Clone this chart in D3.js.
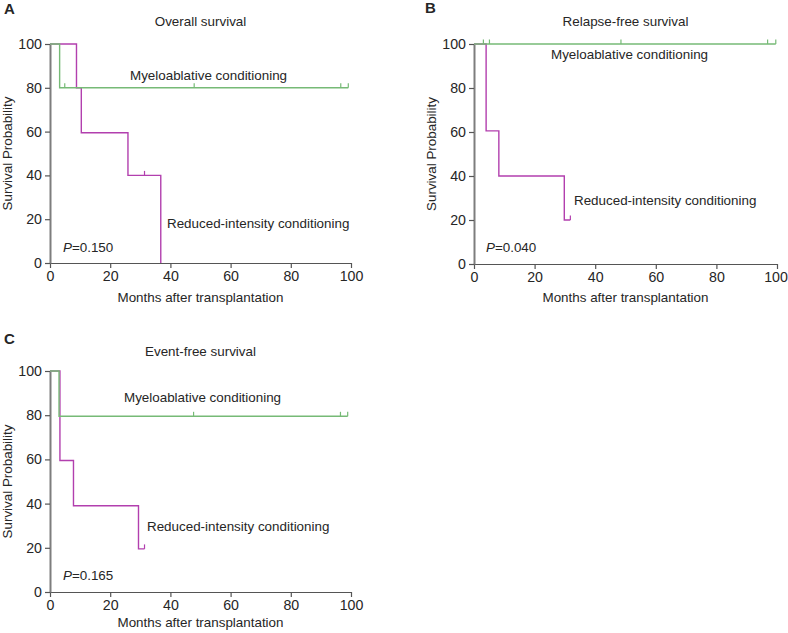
<!DOCTYPE html>
<html>
<head>
<meta charset="utf-8">
<script src="https://cdn.jsdelivr.net/npm/d3@7"></script>
<style>
  html, body { margin: 0; padding: 0; background: #fff; }
  svg text { font-family: "Liberation Sans", Arial, Helvetica, sans-serif; fill: #262626; }
</style>
</head>
<body>
<svg id="chart" width="788" height="633"></svg>
<script>
// ---------- data ----------
const tickValues = [0, 20, 40, 60, 80, 100];
const panelLetters = ["A", "B", "C"];
const panelTitles = ["Overall survival", "Relapse-free survival", "Event-free survival"];
const groupNames = ["Myeloablative conditioning", "Reduced-intensity conditioning"];
const pValues = ["0.150", "0.040", "0.165"];
const xLabel = "Months after transplantation";
const yLabel = "Survival Probability";

// Panel A – overall survival
const osMacTimes = [0, 3.2];
const osMacSurv = [100, 80];
const osMacEnd = 99.1;
const osMacCensor = [4.9, 47.9, 96.6, 99.1];
const osRicTimes = [0, 8.8, 10.4, 25.9, 36.8];
const osRicSurv = [100, 80, 59.5, 40, 0];
const osRicEnd = 36.8;
const osRicCensor = [31.4];

// Panel B – relapse-free survival
const rfsMacTimes = [0];
const rfsMacSurv = [100];
const rfsMacEnd = 99.6;
const rfsMacCensor = [3.1, 5.1, 48.5, 96.9, 99.6];
const rfsRicTimes = [0, 4.0, 8.2, 29.8];
const rfsRicSurv = [100, 60.5, 40, 20];
const rfsRicEnd = 31.8;
const rfsRicCensor = [31.8];

// Panel C – event-free survival
const efsMacTimes = [0, 3.0];
const efsMacSurv = [100, 79.5];
const efsMacEnd = 98.9;
const efsMacCensor = [47.7, 96.5, 98.9];
const efsRicTimes = [0, 3.3, 7.8, 29.4];
const efsRicSurv = [100, 59.5, 39, 19.5];
const efsRicEnd = 31.4;
const efsRicCensor = [31.4];

// ---------- layout ----------
const colMac = "#76ba76";
const colRic = "#b23fae";
const textSize = 13.4;
const tickSize = 14.2;

const panels = [
  { letter: panelLetters[0], title: panelTitles[0], p: pValues[0],
    x0: 50, x1: 351, yTop: 44, yBot: 263, letterPos: [4, 14], titleY: 26, xLabOff: 39,
    mac: { t: osMacTimes, s: osMacSurv, end: osMacEnd, c: osMacCensor },
    ric: { t: osRicTimes, s: osRicSurv, end: osRicEnd, c: osRicCensor },
    macLabel: [130, 80], ricLabel: [167, 228], pPos: [63, 252], yLabX: 8 },
  { letter: panelLetters[1], title: panelTitles[1], p: pValues[1],
    x0: 474, x1: 777, yTop: 44, yBot: 264, letterPos: [425, 13], titleY: 26, xLabOff: 38,
    mac: { t: rfsMacTimes, s: rfsMacSurv, end: rfsMacEnd, c: rfsMacCensor },
    ric: { t: rfsRicTimes, s: rfsRicSurv, end: rfsRicEnd, c: rfsRicCensor },
    macLabel: [551, 59], ricLabel: [574, 205], pPos: [486, 252], yLabX: 432 },
  { letter: panelLetters[2], title: panelTitles[2], p: pValues[2],
    x0: 50, x1: 351, yTop: 371, yBot: 592, letterPos: [4, 344], titleY: 356, xLabOff: 35,
    mac: { t: efsMacTimes, s: efsMacSurv, end: efsMacEnd, c: efsMacCensor },
    ric: { t: efsRicTimes, s: efsRicSurv, end: efsRicEnd, c: efsRicCensor },
    macLabel: [124, 402], ricLabel: [147, 531], pPos: [63, 580], yLabX: 8 }
];

const svg = d3.select("#chart");

panels.forEach(p => {
  const x = d3.scaleLinear().domain([0, 100]).range([p.x0, p.x1]);
  const y = d3.scaleLinear().domain([0, 100]).range([p.yBot, p.yTop]);
  const g = svg.append("g");

  // panel letter
  g.append("text").attr("x", p.letterPos[0]).attr("y", p.letterPos[1])
    .attr("font-size", 15).attr("font-weight", "bold").text(p.letter);

  // title
  g.append("text").attr("x", (p.x0 + p.x1) / 2).attr("y", p.titleY)
    .attr("text-anchor", "middle").attr("font-size", textSize).text(p.title);

  // axes
  const xAxis = d3.axisBottom(x).tickValues(tickValues).tickSize(5).tickPadding(3).tickSizeOuter(0);
  const yAxis = d3.axisLeft(y).tickValues(tickValues).tickSize(5).tickPadding(3).tickSizeOuter(0);

  const gx = g.append("g").attr("transform", `translate(0,${p.yBot})`).call(xAxis);
  gx.select(".domain").attr("stroke", "#555").attr("stroke-width", 1.2);
  gx.selectAll(".tick line").attr("stroke", "#555").attr("stroke-width", 1.2);
  gx.selectAll(".tick text").attr("font-size", tickSize).attr("fill", "#262626")
    .style("font-family", "'Liberation Sans', Arial, sans-serif")
    .attr("dx", d => (p.x1 > 700 && d === 100) ? -1.5 : 0);

  const gy = g.append("g").attr("transform", `translate(${p.x0},0)`).call(yAxis);
  gy.select(".domain").attr("stroke", "#7d7d7d").attr("stroke-width", 2);
  gy.selectAll(".tick line").attr("stroke", "#555").attr("stroke-width", 1.2);
  gy.selectAll(".tick text").attr("font-size", tickSize).attr("fill", "#262626")
    .style("font-family", "'Liberation Sans', Arial, sans-serif");

  // axis labels
  g.append("text").attr("x", (p.x0 + p.x1) / 2).attr("y", p.yBot + p.xLabOff)
    .attr("text-anchor", "middle").attr("font-size", textSize).text(xLabel);
  g.append("text")
    .attr("transform", `translate(${p.yLabX + 4},${(p.yTop + p.yBot) / 2}) rotate(-90)`)
    .attr("text-anchor", "middle").attr("font-size", textSize).text(yLabel);

  // KM step curves
  const stepPts = d => {
    const pts = d.t.map((t, i) => [t, d.s[i]]);
    pts.push([d.end, d.s[d.s.length - 1]]);
    return pts;
  };
  const line = d3.line().x(d => x(d[0])).y(d => y(d[1])).curve(d3.curveStepAfter);

  const drawCurve = (d, col) => {
    g.append("path").datum(stepPts(d)).attr("d", line)
      .attr("fill", "none").attr("stroke", col).attr("stroke-width", 1.4);
    // censor marks
    const survAt = t => {
      let s = d.s[0];
      d.t.forEach((tt, i) => { if (tt <= t) s = d.s[i]; });
      return s;
    };
    g.selectAll(null).data(d.c).enter().append("line")
      .attr("x1", c => x(c)).attr("x2", c => x(c))
      .attr("y1", c => y(survAt(c))).attr("y2", c => y(survAt(c)) - 4.5)
      .attr("stroke", col).attr("stroke-width", 1.2);
  };
  drawCurve(p.ric, colRic);
  drawCurve(p.mac, colMac);

  // group labels
  g.append("text").attr("x", p.macLabel[0]).attr("y", p.macLabel[1])
    .attr("font-size", textSize).text(groupNames[0]);
  g.append("text").attr("x", p.ricLabel[0]).attr("y", p.ricLabel[1])
    .attr("font-size", textSize).text(groupNames[1]);

  // p value
  const pt = g.append("text").attr("x", p.pPos[0]).attr("y", p.pPos[1]).attr("font-size", textSize);
  pt.append("tspan").attr("font-style", "italic").text("P");
  pt.append("tspan").text("=" + p.p);
});
</script>
</body>
</html>
